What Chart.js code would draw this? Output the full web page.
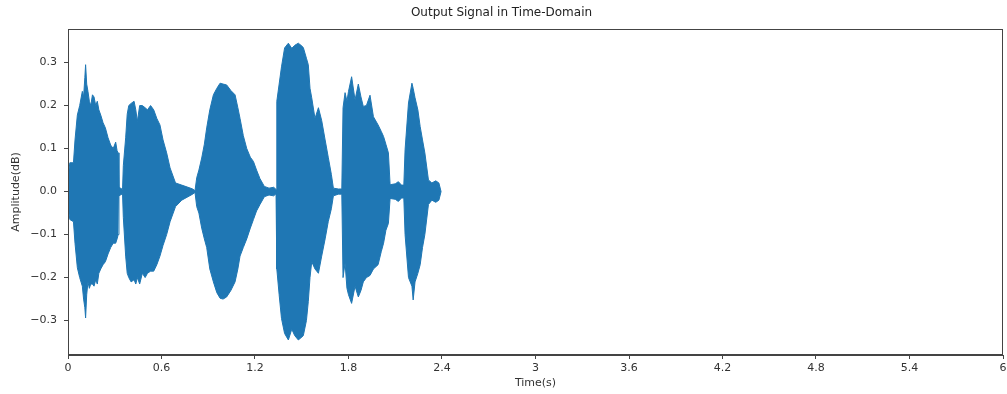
<!DOCTYPE html>
<html>
<head>
<meta charset="utf-8">
<script src="https://cdn.jsdelivr.net/npm/chart.js@4"></script>
<style>
    html, body { margin: 0; padding: 0; background: #ffffff; }
    #wrap { width: 1007px; height: 394px; }
</style>
</head>
<body>
<div id="wrap"><canvas id="signalChart" width="1007" height="394"></canvas></div>
<script>
// 时间轴（秒），每行一段语音
const timeS = [
    0.000, 0.002, 0.012, 0.035, 0.045, 0.060, 0.075, 0.092, 0.100, 0.108, 0.113, 0.120, 0.128, 0.137, 0.146, 0.157, 0.167, 0.178, 0.188, 0.198, 0.210, 0.225, 0.240, 0.257, 0.274, 0.290, 0.306, 0.315, 0.322, 0.327, 0.350,
    0.355, 0.370, 0.380, 0.390, 0.405, 0.424, 0.435, 0.445, 0.460, 0.477, 0.495, 0.510, 0.530, 0.550, 0.570, 0.590, 0.610, 0.633, 0.655, 0.690, 0.730, 0.770, 0.800, 0.815,
    0.826, 0.840, 0.858, 0.875, 0.890, 0.910, 0.933, 0.955, 0.976, 0.995, 1.018, 1.045, 1.072, 1.090, 1.104, 1.125, 1.147, 1.170, 1.190, 1.210, 1.232, 1.260, 1.290, 1.320, 1.335,
    1.340, 1.355, 1.370, 1.390, 1.414, 1.436, 1.455, 1.478, 1.495, 1.510, 1.530, 1.542, 1.553, 1.564, 1.585, 1.607, 1.628, 1.650, 1.670, 1.690, 1.703, 1.735, 1.757,
    1.765, 1.778, 1.790, 1.800, 1.820, 1.842, 1.863, 1.880, 1.895, 1.915, 1.938, 1.960, 1.990, 2.010, 2.025, 2.040, 2.056, 2.067, 2.100, 2.120, 2.140, 2.155,
    2.163, 2.185, 2.207, 2.215, 2.227, 2.245, 2.260, 2.275, 2.290, 2.313, 2.335, 2.360, 2.380, 2.394
];

// 上包络
const upperAmp = [
    0.000, 0.040, 0.067, 0.067, 0.120, 0.178, 0.200, 0.233, 0.220, 0.265, 0.295, 0.250, 0.233, 0.210, 0.200, 0.225, 0.220, 0.200, 0.210, 0.190, 0.178, 0.160, 0.148, 0.125, 0.108, 0.100, 0.115, 0.095, 0.090, 0.010, 0.005,
    0.060, 0.125, 0.180, 0.200, 0.205, 0.210, 0.190, 0.163, 0.200, 0.200, 0.195, 0.190, 0.200, 0.190, 0.170, 0.155, 0.120, 0.090, 0.055, 0.020, 0.015, 0.010, 0.006, 0.002,
    0.032, 0.050, 0.078, 0.110, 0.148, 0.190, 0.225, 0.240, 0.252, 0.250, 0.248, 0.235, 0.225, 0.195, 0.170, 0.130, 0.100, 0.080, 0.070, 0.050, 0.030, 0.012, 0.008, 0.010, 0.005,
    0.210, 0.250, 0.290, 0.334, 0.345, 0.333, 0.340, 0.345, 0.340, 0.335, 0.310, 0.295, 0.240, 0.218, 0.170, 0.195, 0.165, 0.120, 0.080, 0.040, 0.008, 0.006, 0.006,
    0.195, 0.230, 0.210, 0.233, 0.267, 0.213, 0.250, 0.220, 0.198, 0.200, 0.224, 0.174, 0.155, 0.140, 0.128, 0.110, 0.090, 0.016, 0.018, 0.023, 0.015, 0.015,
    0.097, 0.206, 0.252, 0.240, 0.218, 0.190, 0.151, 0.120, 0.090, 0.027, 0.020, 0.025, 0.020, 0.000
];

// 下包络
const lowerAmp = [
    0.000, -0.040, -0.065, -0.070, -0.120, -0.177, -0.200, -0.220, -0.250, -0.270, -0.294, -0.240, -0.210, -0.225, -0.215, -0.215, -0.220, -0.205, -0.215, -0.190, -0.180, -0.170, -0.163, -0.145, -0.130, -0.120, -0.120, -0.110, -0.100, -0.010, -0.005,
    -0.060, -0.150, -0.190, -0.200, -0.210, -0.205, -0.215, -0.200, -0.215, -0.190, -0.200, -0.190, -0.185, -0.185, -0.170, -0.150, -0.125, -0.100, -0.070, -0.035, -0.020, -0.012, -0.006, -0.002,
    -0.035, -0.050, -0.085, -0.110, -0.130, -0.180, -0.210, -0.235, -0.248, -0.250, -0.245, -0.230, -0.210, -0.180, -0.150, -0.130, -0.110, -0.085, -0.065, -0.045, -0.030, -0.012, -0.008, -0.010, -0.005,
    -0.180, -0.240, -0.295, -0.330, -0.345, -0.320, -0.335, -0.345, -0.340, -0.335, -0.300, -0.256, -0.200, -0.163, -0.180, -0.190, -0.150, -0.110, -0.070, -0.040, -0.010, -0.006, -0.006,
    -0.200, -0.166, -0.225, -0.240, -0.260, -0.220, -0.245, -0.230, -0.210, -0.200, -0.195, -0.180, -0.170, -0.140, -0.120, -0.090, -0.074, -0.016, -0.018, -0.023, -0.015, -0.015,
    -0.100, -0.200, -0.220, -0.252, -0.210, -0.190, -0.170, -0.130, -0.100, -0.030, -0.020, -0.025, -0.020, 0.000
];

// 刻度
const xTickValues = [0, 0.6, 1.2, 1.8, 2.4, 3, 3.6, 4.2, 4.8, 5.4, 6];
const xTickLabels = ['0', '0.6', '1.2', '1.8', '2.4', '3', '3.6', '4.2', '4.8', '5.4', '6'];
const yTickValues = [-0.3, -0.2, -0.1, 0, 0.1, 0.2, 0.3];
const yTickLabels = ['\u22120.3', '\u22120.2', '\u22120.1', '0.0', '0.1', '0.2', '0.3'];

const lineColor = '#1f77b4';
const textColor = '#333333';
const frameColor = '#444444';
const fontFamily = "'DejaVu Sans', sans-serif";

// 画四边框（matplotlib 风格）
const framePlugin = {
    id: 'frame',
    afterDraw(chart) {
        const { ctx, chartArea } = chart;
        ctx.save();
        ctx.strokeStyle = frameColor;
        ctx.lineWidth = 1;
        ctx.strokeRect(chartArea.left + 0.5, chartArea.top + 0.5,
            chartArea.right - chartArea.left - 1, chartArea.bottom - chartArea.top - 1);
        ctx.restore();
    }
};

const ctx = document.getElementById('signalChart');

new Chart(ctx, {
    type: 'line',
    data: {
        datasets: [
            {
                label: 'upper',
                data: timeS.map((t, i) => ({ x: t, y: upperAmp[i] })),
                borderColor: lineColor,
                backgroundColor: lineColor,
                borderWidth: 1,
                pointRadius: 0,
                tension: 0,
                fill: '+1'
            },
            {
                label: 'lower',
                data: timeS.map((t, i) => ({ x: t, y: lowerAmp[i] })),
                borderColor: lineColor,
                backgroundColor: lineColor,
                borderWidth: 1,
                pointRadius: 0,
                tension: 0,
                fill: false
            }
        ]
    },
    options: {
        responsive: false,
        animation: false,
        devicePixelRatio: 1,
        layout: {
            padding: { left: 0, right: 4, top: 0, bottom: 0 }
        },
        scales: {
            x: {
                type: 'linear',
                min: 0,
                max: 6,
                afterBuildTicks(scale) {
                    scale.ticks = xTickValues.map(v => ({ value: v }));
                },
                afterFit(scale) {
                    scale.height = 39;
                    scale.paddingLeft = 0;
                    scale.paddingRight = 0;
                },
                grid: {
                    display: true,
                    drawOnChartArea: false,
                    drawTicks: true,
                    tickLength: 4,
                    color: frameColor
                },
                border: { display: true, color: frameColor },
                ticks: {
                    color: textColor,
                    padding: 3,
                    maxRotation: 0,
                    autoSkip: false,
                    font: { family: fontFamily, size: 11 },
                    callback: function(value, index) {
                        return xTickLabels[index];
                    }
                },
                title: {
                    display: true,
                    text: 'Time(s)',
                    color: textColor,
                    padding: { top: 0, bottom: 4 },
                    font: { family: fontFamily, size: 11 }
                }
            },
            y: {
                type: 'linear',
                min: -0.38,
                max: 0.378,
                afterBuildTicks(scale) {
                    scale.ticks = yTickValues.map(v => ({ value: v }));
                },
                afterFit(scale) {
                    scale.width = 68;
                },
                grid: {
                    display: true,
                    drawOnChartArea: false,
                    drawTicks: true,
                    tickLength: 4,
                    color: frameColor
                },
                border: { display: true, color: frameColor },
                ticks: {
                    color: textColor,
                    padding: 7,
                    autoSkip: false,
                    font: { family: fontFamily, size: 11 },
                    callback: function(value, index) {
                        return yTickLabels[index];
                    }
                },
                title: {
                    display: true,
                    text: 'Amplitude(dB)',
                    color: textColor,
                    padding: { top: 10, bottom: 0 },
                    font: { family: fontFamily, size: 11 }
                }
            }
        },
        plugins: {
            legend: { display: false },
            tooltip: { enabled: false },
            title: {
                display: true,
                text: 'Output Signal in Time-Domain',
                color: '#222222',
                font: { family: fontFamily, size: 12, weight: 'normal' },
                padding: { top: 6, bottom: 8.6 }
            }
        }
    },
    plugins: [framePlugin]
});
</script>
</body>
</html>
